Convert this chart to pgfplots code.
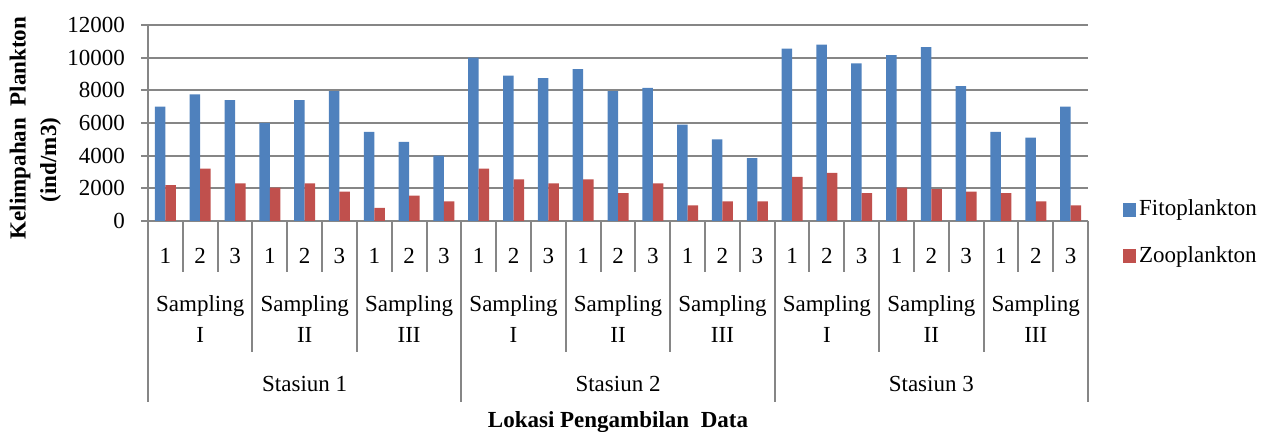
\documentclass[border=0pt]{standalone}
\usepackage{fontspec}
\setmainfont{Liberation Serif}
\usepackage{pgfplots}
\usepackage{pgfplotstable}
\pgfplotsset{compat=1.18}

\definecolor{fito}{RGB}{79,129,189}
\definecolor{zoo}{RGB}{192,80,77}
\definecolor{gridc}{RGB}{134,134,134}

% Plankton abundance (ind/m3): station / sampling / replicate
\pgfplotstableread{
x     fito   zoo
0.5   7000   2200
1.5   7750   3200
2.5   7400   2300
3.5   6000   2050
4.5   7400   2300
5.5   7950   1800
6.5   5450    800
7.5   4850   1550
8.5   4000   1200
9.5  10000   3200
10.5  8900   2550
11.5  8750   2300
12.5  9300   2550
13.5  7950   1700
14.5  8150   2300
15.5  5900    950
16.5  5000   1200
17.5  3850   1200
18.5 10550   2700
19.5 10800   2950
20.5  9650   1700
21.5 10150   2050
22.5 10650   1950
23.5  8250   1800
24.5  5450   1700
25.5  5100   1200
26.5  7000    950
}\planktondata

\begin{document}
\fontsize{11.5}{13.8}\selectfont
\begin{tikzpicture}
\useasboundingbox (0,0) rectangle (637pt,216pt);

% vertical axis title
\node[rotate=90, anchor=base, font=\bfseries] at (12.75pt,152pt) {Kelimpahan\ \ Plankton};
\node[rotate=90, anchor=base, font=\bfseries] at (28pt,136pt) {(ind/m3)};

\begin{axis}[
  at={(74pt,105.5pt)}, anchor=south west,
  width=470pt, height=98pt, scale only axis,
  xmin=0, xmax=27, ymin=0, ymax=12000,
  xtick=\empty,
  ytick={0,2000,...,12000},
  scaled y ticks=false,
  yticklabel style={xshift=-4pt},
  ymajorgrids,
  grid style={gridc, line width=1pt},
  axis x line*=bottom, axis y line*=left,
  axis line style={gridc, line width=1pt},
  tick align=outside, major tick length=3.5pt,
  ytick style={gridc, line width=1pt},
  /pgf/number format/.cd, 1000 sep={}, assume math mode=true,
  /pgfplots/.cd,
  ybar=0pt, bar width=5.25pt,
  legend style={at={(1.037,0.125)}, anchor=north west, draw=none, fill=none,
    row sep=10.5pt, inner sep=0pt, nodes={inner sep=1.5pt}},
  legend cell align=left,
  legend image code/.code={\fill[#1] (0pt,-3.5pt) rectangle (6.5pt,3.5pt);},
  clip=false,
]
\addplot[fill=fito, draw=none] table[x=x, y=fito] {\planktondata};
\addplot[fill=zoo, draw=none] table[x=x, y=zoo] {\planktondata};
\legend{Fitoplankton, Zooplankton}

% category separators
\pgfplotsinvokeforeach{0,...,27}{
  \draw[gridc, line width=1pt] (axis cs:#1,0) -- ++(0pt,-25.5pt);
}
\pgfplotsinvokeforeach{3,6,...,24}{
  \draw[gridc, line width=1pt] (axis cs:#1,0) -- ++(0pt,-65.5pt);
}
\pgfplotsinvokeforeach{0,9,18,27}{
  \draw[gridc, line width=1pt] (axis cs:#1,0) -- ++(0pt,-90.5pt);
}

% replicate numbers
\pgfplotsinvokeforeach{0.5,3.5,...,24.5}{
  \node[anchor=base] at ([yshift=-21.5pt]axis cs:#1,0) {1};
}
\pgfplotsinvokeforeach{1.5,4.5,...,25.5}{
  \node[anchor=base] at ([yshift=-21.5pt]axis cs:#1,0) {2};
}
\pgfplotsinvokeforeach{2.5,5.5,...,26.5}{
  \node[anchor=base] at ([yshift=-21.5pt]axis cs:#1,0) {3};
}

% sampling rounds
\pgfplotsinvokeforeach{1.5,4.5,...,25.5}{
  \node[anchor=base] at ([yshift=-45.5pt]axis cs:#1,0) {Sampling};
}
\pgfplotsinvokeforeach{1.5,10.5,19.5}{
  \node[anchor=base] at ([yshift=-61pt]axis cs:#1,0) {I};
}
\pgfplotsinvokeforeach{4.5,13.5,22.5}{
  \node[anchor=base] at ([yshift=-61pt]axis cs:#1,0) {II};
}
\pgfplotsinvokeforeach{7.5,16.5,25.5}{
  \node[anchor=base] at ([yshift=-61pt]axis cs:#1,0) {III};
}

% stations
\node[anchor=base] at ([yshift=-85.5pt]axis cs:4.5,0) {Stasiun 1};
\node[anchor=base] at ([yshift=-85.5pt]axis cs:13.5,0) {Stasiun 2};
\node[anchor=base] at ([yshift=-85.5pt]axis cs:22.5,0) {Stasiun 3};

% horizontal axis title
\node[anchor=base, font=\bfseries] at ([yshift=-103.5pt]axis cs:13.5,0) {Lokasi Pengambilan\ \ Data};
\end{axis}
\end{tikzpicture}
\end{document}
